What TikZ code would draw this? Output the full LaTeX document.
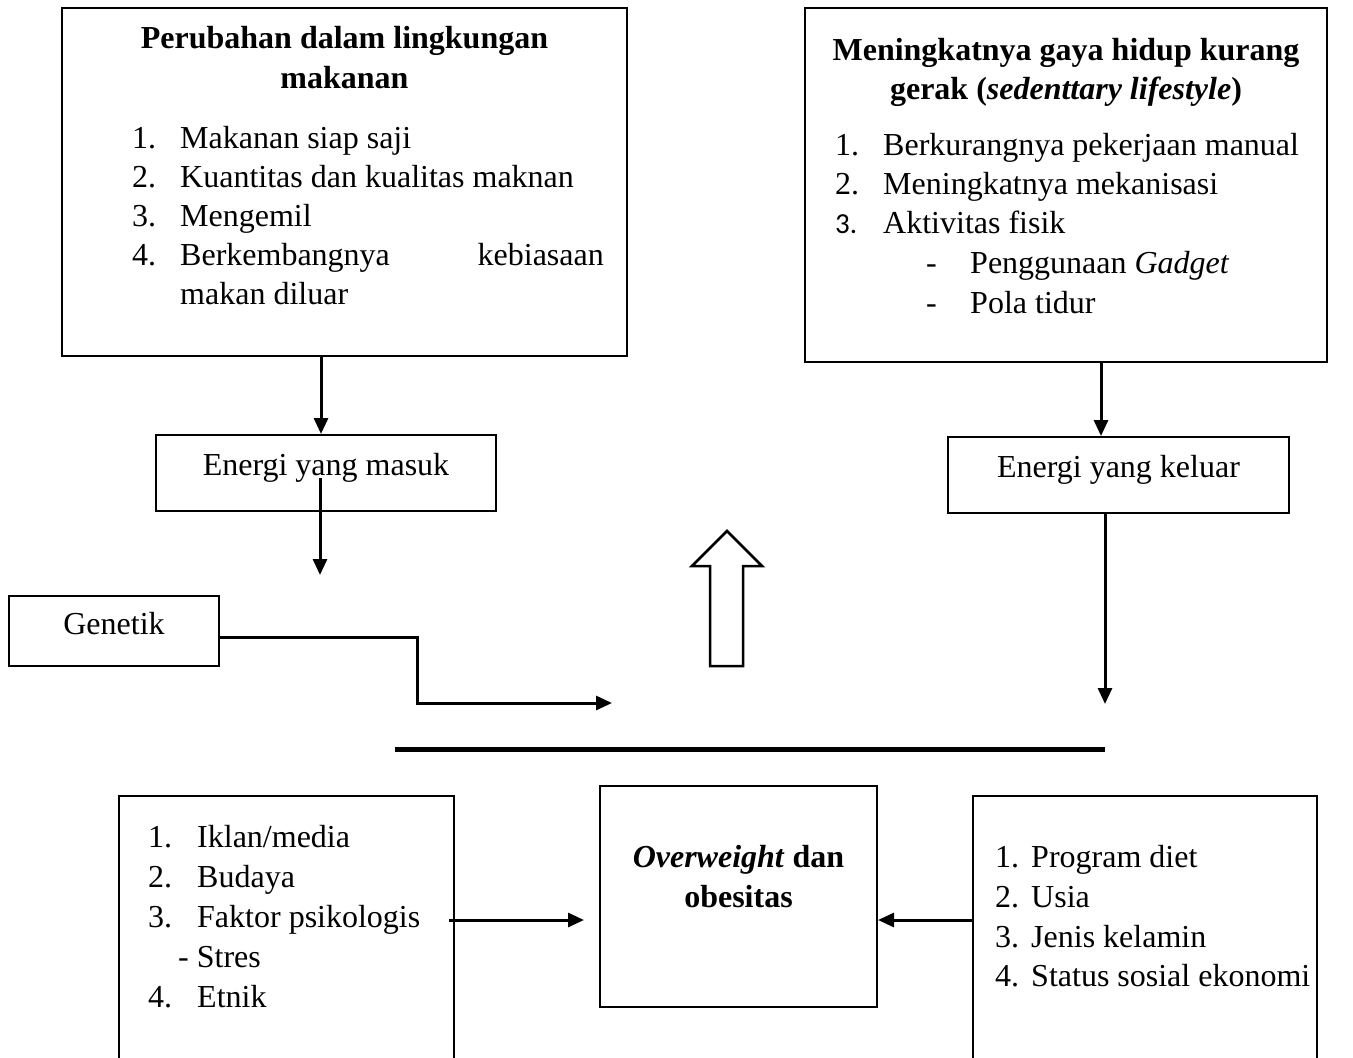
\documentclass[tikz,border=0pt]{standalone}
\usepackage{fontspec}
\setmainfont{Liberation Serif}
\newfontfamily\numfont{Carlito}
\usetikzlibrary{%
	calc,%
	arrows.meta%
}
\tikzset{
	box/.style={draw, line width=2pt, inner sep=0pt},
	txt/.style={inner sep=0pt, anchor=base west, font=\fontsize{32}{39}\selectfont},
	ctxt/.style={txt, anchor=base},
	arr/.style={line width=3pt, -{Triangle[length=16pt,width=14pt]}}
}

\begin{document}
\begin{tikzpicture}[x=1pt, y=-1pt]
		\useasboundingbox (0,0) rectangle (1353,1058);

		% Boxes
		\node[box, minimum width=565pt, minimum height=348pt] (makanan) at (344.5,182) {};
		\node[box, minimum width=522pt, minimum height=354pt] (gerak) at (1066,185) {};
		\node[box, minimum width=340pt, minimum height=76pt] (masuk) at (326,473) {};
		\node[box, minimum width=341pt, minimum height=76pt] (keluar) at (1118.5,475) {};
		\node[box, minimum width=210pt, minimum height=70pt] (genetik) at (114,631) {};
		\node[box, minimum width=335pt, minimum height=265pt] (lbox) at (286.5,928.5) {};
		\node[box, minimum width=277pt, minimum height=221pt] (obes) at (738.5,896.5) {};
		\node[box, minimum width=344pt, minimum height=265pt] (rbox) at (1145,928.5) {};

		% Lingkungan makanan
		\node[ctxt] (makanan-t1) at (344.5,48) {\bfseries Perubahan dalam lingkungan};
		\node[ctxt] (makanan-t2) at (344.5,88) {\bfseries makanan};
		\node[txt] (makanan-n1) at (132,148) {1.};
		\node[txt] (makanan-i1) at (180,148) {Makanan siap saji};
		\node[txt] (makanan-n2) at (132,187) {2.};
		\node[txt] (makanan-i2) at (180,187) {Kuantitas dan kualitas maknan};
		\node[txt] (makanan-n3) at (132,226) {3.};
		\node[txt] (makanan-i3) at (180,226) {Mengemil};
		\node[txt] (makanan-n4) at (132,265) {4.};
		\node[txt] (makanan-i4) at (180,265) {Berkembangnya};
		\node[txt, anchor=base east] (makanan-i4b) at (604,265) {kebiasaan};
		\node[txt] (makanan-i5) at (180,304) {makan diluar};

		% Gaya hidup
		\node[ctxt] (gerak-t1) at (1066,60) {\bfseries Meningkatnya gaya hidup kurang};
		\node[ctxt] (gerak-t2) at (1066,99) {\bfseries gerak (\textit{sedenttary lifestyle})};
		\node[txt] (gerak-n1) at (835,155) {1.};
		\node[txt] (gerak-i1) at (883,155) {Berkurangnya pekerjaan manual};
		\node[txt] (gerak-n2) at (835,194) {2.};
		\node[txt] (gerak-i2) at (883,194) {Meningkatnya mekanisasi};
		\node[txt] (gerak-n3) at (835,233) {\numfont\fontsize{29}{39}\selectfont 3.};
		\node[txt] (gerak-i3) at (883,233) {Aktivitas fisik};
		\node[txt] (gerak-d1) at (926,273) {-};
		\node[txt] (gerak-s1) at (970,273) {Penggunaan \textit{Gadget}};
		\node[txt] (gerak-d2) at (926,313) {-};
		\node[txt] (gerak-s2) at (970,313) {Pola tidur};

		% Energi & genetik
		\node[ctxt] (masuk-t) at (326,475) {Energi yang masuk};
		\node[ctxt] (keluar-t) at (1118.5,477) {Energi yang keluar};
		\node[ctxt] (genetik-t) at (114,634) {Genetik};

		% Faktor kiri
		\node[txt] (lbox-n1) at (148,847) {1.};
		\node[txt] (lbox-i1) at (197,847) {Iklan/media};
		\node[txt] (lbox-n2) at (148,887) {2.};
		\node[txt] (lbox-i2) at (197,887) {Budaya};
		\node[txt] (lbox-n3) at (148,927) {3.};
		\node[txt] (lbox-i3) at (197,927) {Faktor psikologis};
		\node[txt] (lbox-s1) at (178,967) {- Stres};
		\node[txt] (lbox-n4) at (148,1007) {4.};
		\node[txt] (lbox-i4) at (197,1007) {Etnik};

		% Overweight
		\node[ctxt] (obes-t1) at (738.5,867) {\bfseries\textit{Overweight} dan};
		\node[ctxt] (obes-t2) at (738.5,907) {\bfseries obesitas};

		% Faktor kanan
		\node[txt] (rbox-n1) at (995,867) {1.};
		\node[txt] (rbox-i1) at (1031,867) {Program diet};
		\node[txt] (rbox-n2) at (995,907) {2.};
		\node[txt] (rbox-i2) at (1031,907) {Usia};
		\node[txt] (rbox-n3) at (995,947) {3.};
		\node[txt] (rbox-i3) at (1031,947) {Jenis kelamin};
		\node[txt] (rbox-n4) at (995,986) {4.};
		\node[txt] (rbox-i4) at (1031,986) {Status sosial ekonomi};

		% Arrows
		\coordinate (masuk-out) at (320,575);
		\coordinate (gen-bend) at (417,703);
		\coordinate (gen-end) at (612,703);
		\coordinate (keluar-out) at (1105,704);
		\draw[arr] ([xshift=-5pt]masuk.north |- makanan.south) -- ([xshift=-5pt]masuk.north);
		\draw[arr] ([xshift=-6pt,yshift=-5pt]masuk.center) -- (masuk-out);
		\draw[arr] ([yshift=-6pt]genetik.east) -| (gen-bend) -- (gen-end);
		\draw[arr] ([xshift=-17.5pt]keluar.north |- gerak.south) -- ([xshift=-17.5pt]keluar.north);
		\draw[arr] (keluar.south -| keluar-out) -- (keluar-out);
		\draw[arr] ([xshift=-6pt,yshift=8.5pt]lbox.east) -- ++(135,0);
		\path ([yshift=8.5pt]rbox.west) coordinate (r-start);
		\draw[arr] (r-start) -- (r-start -| obes.east);

		% Garis tebal
		\coordinate (bar-l) at (395,749);
		\coordinate (bar-r) at (1105,749);
		\draw[line width=5pt] (bar-l) -- (bar-r);

		% Panah kosong
		\draw[line width=2.5pt] (710,666) -- (710,566) -- (692,566) -- (727,531) -- (762,566) -- (743,566) -- (743,666) -- cycle;
	\end{tikzpicture}
\end{document}
